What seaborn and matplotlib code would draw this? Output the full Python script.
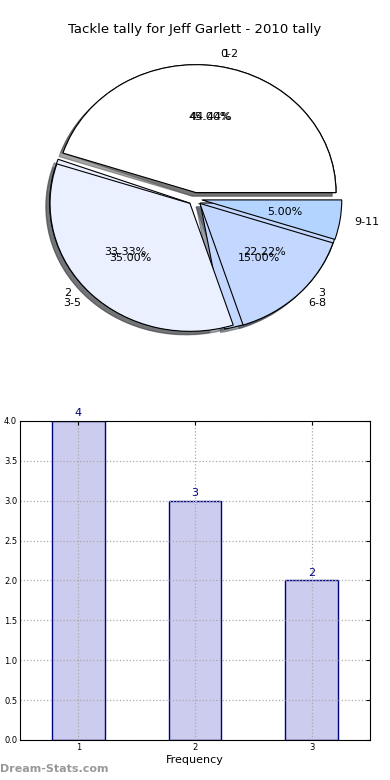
import matplotlib
matplotlib.use("Agg")
import matplotlib.pyplot as plt
import seaborn as sns
import pandas as pd

# dati
tackle_vals = [1, 2, 3]
tackle_counts = [4, 3, 2]
range_labels = ["0-2", "3-5", "6-8", "9-11"]
range_share = [45, 35, 15, 5]
pie_colors = ["#ffffff", "#eaf0ff", "#c4d8ff", "#b3d4ff"]

sns.set_style("white")
plt.rcParams["font.family"] = ["DejaVu Sans"]
plt.rcParams["text.color"] = "black"
plt.rcParams["axes.labelcolor"] = "black"
plt.rcParams["xtick.color"] = "black"
plt.rcParams["ytick.color"] = "black"

fig = plt.figure(figsize=(3.9, 7.8), dpi=100)
fig.text(0.5, 0.962, "Tackle tally for Jeff Garlett - 2010 tally",
         ha="center", va="center", fontsize=9.5)

# torta (due torte sovrapposte, come nell'originale)
ax1 = fig.add_axes([0.0513, 0.540, 0.897, 0.410])
ax1.pie(tackle_counts, labels=[str(v) for v in tackle_vals],
        colors=pie_colors[:3], explode=[0.05] * 3, autopct="%.2f%%",
        shadow=True, startangle=0,
        wedgeprops={"edgecolor": "black", "linewidth": 0.8},
        textprops={"fontsize": 8})
ax1.pie(range_share, labels=range_labels, colors=pie_colors,
        explode=[0.05] * 4, autopct="%.2f%%", shadow=True, startangle=0,
        wedgeprops={"edgecolor": "black", "linewidth": 0.8},
        textprops={"fontsize": 8})
ax1.set_aspect("auto")
ax1.set_xlim(-1.25, 1.25)
ax1.set_ylim(-1.25, 1.25)

# barre
df = pd.DataFrame({"tackles": tackle_vals, "count": tackle_counts})
ax2 = fig.add_axes([0.0513, 0.0513, 0.897, 0.409])
sns.barplot(data=df, x="tackles", y="count", color="#ccccee",
            edgecolor="#000080", linewidth=1, width=0.45, saturation=1,
            ax=ax2)
ax2.bar_label(ax2.containers[0], padding=2, color="#000080", fontsize=8,
              clip_on=False)
ax2.set_xlim(-0.5, 2.5)
ax2.set_ylim(0, 4)
yt = [0, 0.5, 1, 1.5, 2, 2.5, 3, 3.5, 4]
ax2.set_yticks(yt)
ax2.set_yticklabels([f"{v:.1f}" for v in yt])
ax2.set_xlabel("Frequency", fontsize=8, labelpad=2)
ax2.set_ylabel("")
ax2.tick_params(labelsize=6, direction="in", top=True, right=True,
                length=3, pad=2)
ax2.grid(True, linestyle=":", color="#aaaaaa", linewidth=0.9)
ax2.set_axisbelow(False)
for s in ax2.spines.values():
    s.set_color("black")
    s.set_linewidth(0.8)
    s.set_zorder(5)

fig.text(0.0, 0.008, "Dream-Stats.com", color="#999999", fontsize=8,
         fontweight="bold", ha="left", va="bottom")

fig.savefig("out.png", dpi=100)
